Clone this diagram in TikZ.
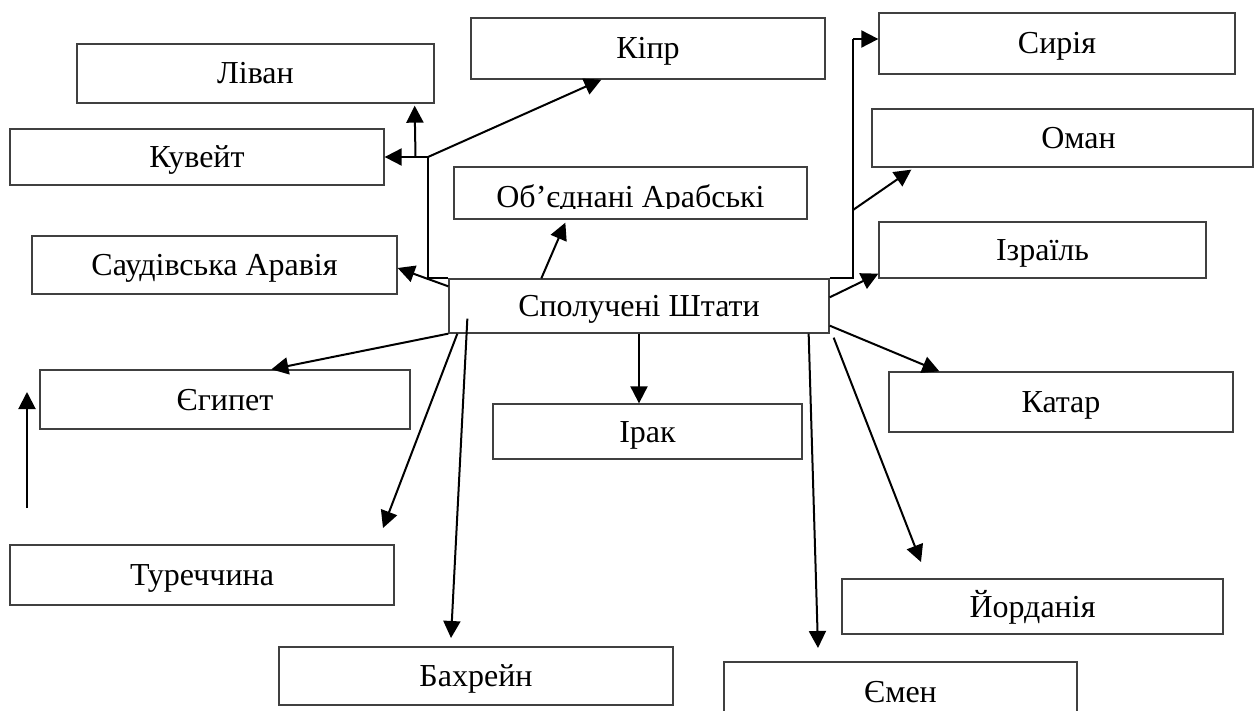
\documentclass[tikz,border=0pt]{standalone}
\usepackage{fontspec}
\setmainfont{Liberation Serif}
\usetikzlibrary{arrows.meta,calc}
\begin{document}
\begin{tikzpicture}[x=1pt,y=-1pt,
  box/.style={draw=black!75,line width=1.3pt,rectangle,inner sep=0pt,
    text height=21pt,text depth=0pt,font=\fontsize{32}{38}\selectfont},
  arr/.style={line width=2pt,-{Triangle[length=17pt,width=17pt]}},
  ln/.style={line width=2pt}]
\useasboundingbox (0,0) rectangle (1259,711);
% boxes
\node[box,minimum width=357,minimum height=59] (liban) at (255.5,73.5) {Ліван};
\node[box,minimum width=354,minimum height=61] (kipr) at (648,48.5) {Кіпр};
\node[box,minimum width=356,minimum height=61] (syria) at (1057,43.5) {Сирія};
\node[box,minimum width=374,minimum height=56] (kuwait) at (197,157) {Кувейт};
\node[box,minimum width=381,minimum height=58] (oman) at (1062.5,138) {\hspace*{32pt}Оман};
\node[box,minimum width=353,minimum height=52] (uae) at (630.5,193) {};
\begin{scope}
  \clip (454,167) rectangle (807,209);
  \node[font=\fontsize{32}{38}\selectfont,anchor=base] (uaetext) at (630.5,208) {Об’єднані Арабські};
\end{scope}
\node[box,minimum width=365,minimum height=58] (saudi) at (214.5,265) {Саудівська Аравія};
\node[box,minimum width=327,minimum height=56] (israel) at (1042.5,250) {Ізраїль};
\node[box,minimum width=380,minimum height=54] (usa) at (639,306) {Сполучені Штати};
\node[box,minimum width=370,minimum height=59] (egypt) at (225,399.5) {Єгипет};
\node[box,minimum width=309,minimum height=55] (iraq) at (647.5,431.5) {Ірак};
\node[box,minimum width=344,minimum height=60] (qatar) at (1061,402) {Катар};
\node[box,minimum width=384,minimum height=60] (turkey) at (202,575) {Туреччина};
\node[box,minimum width=381,minimum height=55] (jordan) at (1032.5,606.5) {Йорданія};
\node[box,minimum width=394,minimum height=58] (bahrain) at (476,676) {Бахрейн};
\node[box,minimum width=353,minimum height=60] (yemen) at (900.5,692) {Ємен};
% junction coordinates and free ends
\coordinate (jl) at (428,157);
\coordinate (jl2) at (415.5,157);
\coordinate (js) at (853,39);
\coordinate (jo) at (853,210);
\coordinate (tk) at (383,528);
\coordinate (bh) at (451,638);
\coordinate (ym) at (818,648);
\coordinate (jd) at (921,562);
\coordinate (fa) at (27,508);
\coordinate (fb) at (27,392);
% connectors
\draw[ln] (usa.north west) -| (jl);
\draw[arr] (jl) -- (kuwait.east |- jl);
\draw[arr] (jl2) -- ($(liban.south east)+(-20,2)$);
\draw[arr] (jl) -- ($(kipr.south west)+(131,0)$);
\draw[arr] ($(usa.north west)+(0,8)$) -- ($(saudi.east)+(0,3)$);
\draw[arr] (usa.south west) -- ($(egypt.north west)+(232,0)$);
\draw[arr] ($(usa.south west)+(9,0)$) -- (tk);
\draw[arr] ($(usa.south west)+(19,-15)$) -- (bh);
\draw[arr] (usa.south) -- (usa.south |- iraq.north);
\draw[arr] ($(usa.north west)+(93,0)$) -- ($(uae.south west)+(112,3)$);
\draw[arr] ($(usa.south east)+(-21,0)$) -- (ym);
\draw[arr] ($(usa.south east)+(4,4)$) -- (jd);
\draw[arr] ($(usa.south east)+(0,-8)$) -- ($(qatar.north west)+(51,0)$);
\draw[arr] ($(usa.north east)+(0,19)$) -- ($(israel.south west)+(0,-5)$);
\draw[ln] (usa.north east) -| (js);
\draw[arr] (js) -- (js -| syria.west);
\draw[arr] (jo) -- ($(oman.south west)+(40,2)$);
\draw[arr] (fa) -- (fb);
\end{tikzpicture}
\end{document}
